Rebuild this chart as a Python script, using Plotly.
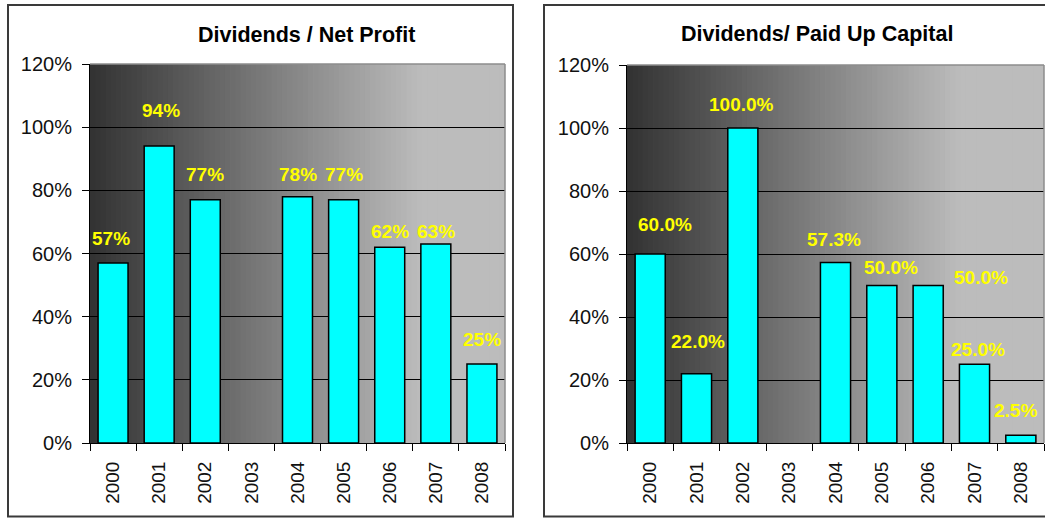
import plotly.graph_objects as go

# ---- data ----
years = ["2000", "2001", "2002", "2003", "2004", "2005", "2006", "2007", "2008"]
div_net_profit = [0.57, 0.94, 0.77, None, 0.78, 0.77, 0.62, 0.63, 0.25]
div_paid_capital = [0.600, 0.220, 1.000, None, 0.573, 0.500, 0.500, 0.250, 0.025]
title_left = "Dividends / Net Profit"
title_right = "Dividends/ Paid Up Capital"
y_ticks = [0, 0.2, 0.4, 0.6, 0.8, 1.0, 1.2]

# label placement offsets in pixels (style only)
left_label_dx = [-2, 2, 0, 0, 0, 0, 0, 0, 0]
left_label_dy = [24, 36, 25, 0, 22, 25, 16, 13, 25]
right_label_dx = [15, 1, -1, 0, -2, 9, 53, 3, -5]
right_label_dy = [30, 32, 23, 0, 23, 18, 8, 15, 25]

W, H = 1045, 518
def px(x):
    return x / W
def py(y):
    return 1 - y / H

FONT = "Liberation Sans, Arial, sans-serif"

fig = go.Figure()

fig.add_trace(go.Bar(x=years, y=div_net_profit, xaxis="x", yaxis="y",
                     marker=dict(color="#00FFFF", line=dict(color="#000000", width=1.5)),
                     hoverinfo="x+y", showlegend=False))
fig.add_trace(go.Bar(x=years, y=div_paid_capital, xaxis="x2", yaxis="y2",
                     marker=dict(color="#00FFFF", line=dict(color="#000000", width=1.5)),
                     hoverinfo="x+y", showlegend=False))

def xaxis_style(domain, anchor):
    return dict(domain=domain, anchor=anchor, type="category",
                categoryorder="array", categoryarray=years,
                range=[-0.5, len(years) - 0.5], autorange=False, automargin=False,
                tickson="boundaries", ticks="outside", ticklen=7, tickcolor="#000",
                tickwidth=1, showline=True, linecolor="#000", linewidth=1,
                showgrid=False, tickangle=-90, ticklabelstandoff=10,
                tickfont=dict(family=FONT, size=19, color="#111"), fixedrange=True)

def yaxis_style(domain, anchor):
    return dict(domain=domain, anchor=anchor, range=[0, 1.2], autorange=False,
                automargin=False, tickvals=y_ticks,
                tickformat=".0%", ticks="outside", ticklen=7, tickcolor="#000",
                showline=True, linecolor="#000", linewidth=1,
                showgrid=True, gridcolor="#000", gridwidth=1, zeroline=False,
                ticklabelstandoff=6,
                tickfont=dict(family=FONT, size=20, color="#111"), fixedrange=True)

fig.update_layout(
    width=W, height=H, margin=dict(l=0, r=0, t=0, b=0, autoexpand=False),
    paper_bgcolor="#FFFFFF", plot_bgcolor="rgba(0,0,0,0)",
    bargap=0.35, showlegend=False,
    xaxis=xaxis_style([px(90), px(505)], "y"),
    yaxis=yaxis_style([py(443), py(64)], "x"),
    xaxis2=xaxis_style([px(627), px(1044)], "y2"),
    yaxis2=yaxis_style([py(443), py(65)], "x2"),
)

shapes = []
# gradient background strips
N = 80
def grad_color(t):
    lo, hi, end = 50, 188, 0.8
    v = lo + (hi - lo) * min(t / end, 1.0)
    v = int(round(v))
    return f"rgb({v},{v},{v})"
for xr, yr in (("x domain", "y domain"), ("x2 domain", "y2 domain")):
    for i in range(N):
        t0 = i / N
        t1 = (i + 1) / N + 0.002
        shapes.append(dict(type="rect", xref=xr, yref=yr, x0=t0, x1=min(t1, 1), y0=0, y1=1,
                           fillcolor=grad_color((i + 0.5) / N), line=dict(width=0),
                           layer="below"))
    # plot-area border (top/right light grey)
    shapes.append(dict(type="line", xref=xr, yref=yr, x0=0, x1=1, y0=1, y1=1,
                       line=dict(color="#8c8c8c", width=1.5), layer="above"))
    shapes.append(dict(type="line", xref=xr, yref=yr, x0=1, x1=1, y0=0, y1=1,
                       line=dict(color="#8c8c8c", width=1.5), layer="above"))

# chart boxes
shapes.append(dict(type="rect", xref="paper", yref="paper",
                   x0=px(8), x1=px(513), y0=py(516.5), y1=py(5),
                   line=dict(color="#3a3a3a", width=2), fillcolor="rgba(0,0,0,0)"))
shapes.append(dict(type="rect", xref="paper", yref="paper",
                   x0=px(544), x1=px(1050), y0=py(516.5), y1=py(5),
                   line=dict(color="#3a3a3a", width=2), fillcolor="rgba(0,0,0,0)"))
fig.update_layout(shapes=shapes)

annotations = []
annotations.append(dict(text="<b>" + title_left + "</b>", xref="paper", yref="paper",
                        x=px(306), y=py(35), xanchor="center", yanchor="middle",
                        showarrow=False, font=dict(family=FONT, size=21.5, color="#000")))
annotations.append(dict(text="<b>" + title_right + "</b>", xref="paper", yref="paper",
                        x=px(817), y=py(34), xanchor="center", yanchor="middle",
                        showarrow=False, font=dict(family=FONT, size=21.5, color="#000")))
for xa, ya, vals, fmt, dxs, dys in (
        ("x", "y", div_net_profit, "{:.0%}", left_label_dx, left_label_dy),
        ("x2", "y2", div_paid_capital, "{:.1%}", right_label_dx, right_label_dy)):
    for i, v in enumerate(vals):
        if v is None:
            continue
        annotations.append(dict(text="<b>" + fmt.format(v) + "</b>", xref=xa, yref=ya,
                                x=i, y=v, xshift=dxs[i], yshift=dys[i],
                                xanchor="center", yanchor="middle", showarrow=False,
                                font=dict(family=FONT, size=19, color="#FFFF00")))
fig.update_layout(annotations=annotations)

fig.write_html("out.html", config={"displayModeBar": False},
               post_script="document.body.style.margin='0';document.body.style.overflow='hidden';")
